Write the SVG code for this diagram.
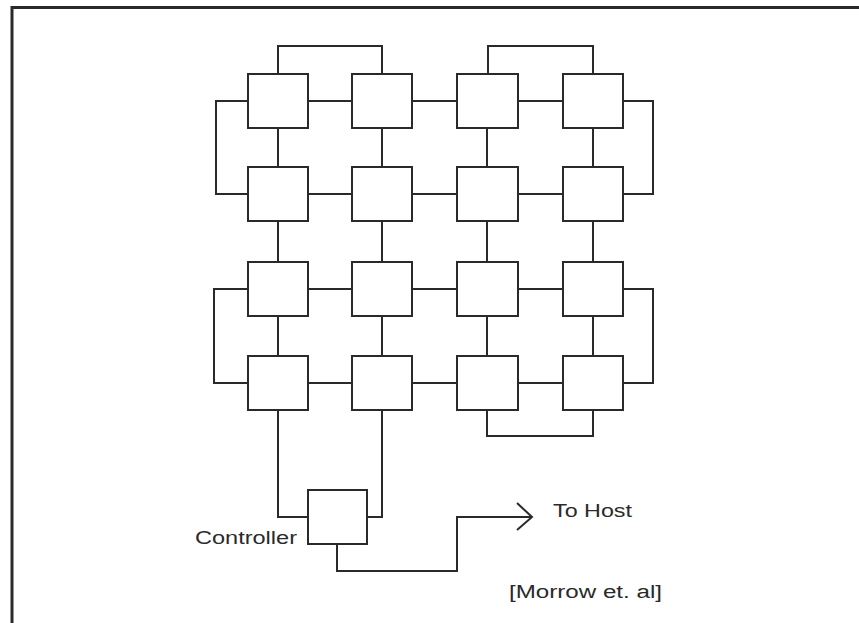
<svg xmlns="http://www.w3.org/2000/svg" width="859" height="623" viewBox="0 0 859 623">
<defs>
<style>
.frame{fill:none;stroke:#2a2a2a;stroke-width:3}
.box{fill:#ffffff;stroke:#2a2a2a;stroke-width:2}
.wire{fill:none;stroke:#2a2a2a;stroke-width:2;stroke-linejoin:miter}
.lbl{font-family:"Liberation Sans",Arial,sans-serif;font-size:18px;fill:#2a2a2a}
</style>
</defs>
<rect width="859" height="623" fill="#ffffff"/>
<polyline class="frame" points="12,623 12,7.5 859,7.5"/>
<g id="connectors">
<!-- horizontal links -->
<path class="wire" d="M308,101H352M412,101H457M518,101H563M308,194H352M412,194H457M518,194H563M308,289H352M412,289H457M518,289H563M308,383H352M412,383H457M518,383H563"/>
<!-- vertical links -->
<path class="wire" d="M278,128V167M382,128V167M487,128V167M593,128V167M278,221V262M382,221V262M487,221V262M593,221V262M278,316V356M382,316V356M487,316V356M593,316V356"/>
<!-- wrap-around links -->
<polyline class="wire" points="278,74 278,46 382,46 382,74"/>
<polyline class="wire" points="488,74 488,46 593,46 593,74"/>
<polyline class="wire" points="248,101 216,101 216,194 248,194"/>
<polyline class="wire" points="248,289 214,289 214,383 248,383"/>
<polyline class="wire" points="623,101 653,101 653,194 623,194"/>
<polyline class="wire" points="623,289 653,289 653,383 623,383"/>
<polyline class="wire" points="487,410 487,436 593,436 593,410"/>
<!-- controller links -->
<polyline class="wire" points="278,410 278,517 308,517"/>
<polyline class="wire" points="382,410 382,517 367,517"/>
<polyline class="wire" points="337,544 337,571 457,571 457,517 532,517"/>
<polyline class="wire" points="517,503 532,517 517,530"/>
</g>
<g id="n11"><rect class="box" x="248" y="74" width="60" height="54"/></g>
<g id="n12"><rect class="box" x="352" y="74" width="60" height="54"/></g>
<g id="n13"><rect class="box" x="457" y="74" width="61" height="54"/></g>
<g id="n14"><rect class="box" x="563" y="74" width="60" height="54"/></g>
<g id="n21"><rect class="box" x="248" y="167" width="60" height="54"/></g>
<g id="n22"><rect class="box" x="352" y="167" width="60" height="54"/></g>
<g id="n23"><rect class="box" x="457" y="167" width="61" height="54"/></g>
<g id="n24"><rect class="box" x="563" y="167" width="60" height="54"/></g>
<g id="n31"><rect class="box" x="248" y="262" width="60" height="54"/></g>
<g id="n32"><rect class="box" x="352" y="262" width="60" height="54"/></g>
<g id="n33"><rect class="box" x="457" y="262" width="61" height="54"/></g>
<g id="n34"><rect class="box" x="563" y="262" width="60" height="54"/></g>
<g id="n41"><rect class="box" x="248" y="356" width="60" height="54"/></g>
<g id="n42"><rect class="box" x="352" y="356" width="60" height="54"/></g>
<g id="n43"><rect class="box" x="457" y="356" width="61" height="54"/></g>
<g id="n44"><rect class="box" x="563" y="356" width="60" height="54"/></g>
<g id="controller">
<rect class="box" x="308" y="490" width="59" height="54"/>
<text class="lbl" x="195" y="544" textLength="102" lengthAdjust="spacingAndGlyphs">Controller</text>
</g>
<g id="host">
<text class="lbl" x="553" y="517" textLength="79" lengthAdjust="spacingAndGlyphs">To Host</text>
</g>
<text class="lbl" x="509" y="598" textLength="153" lengthAdjust="spacingAndGlyphs">[Morrow et. al]</text>
</svg>
